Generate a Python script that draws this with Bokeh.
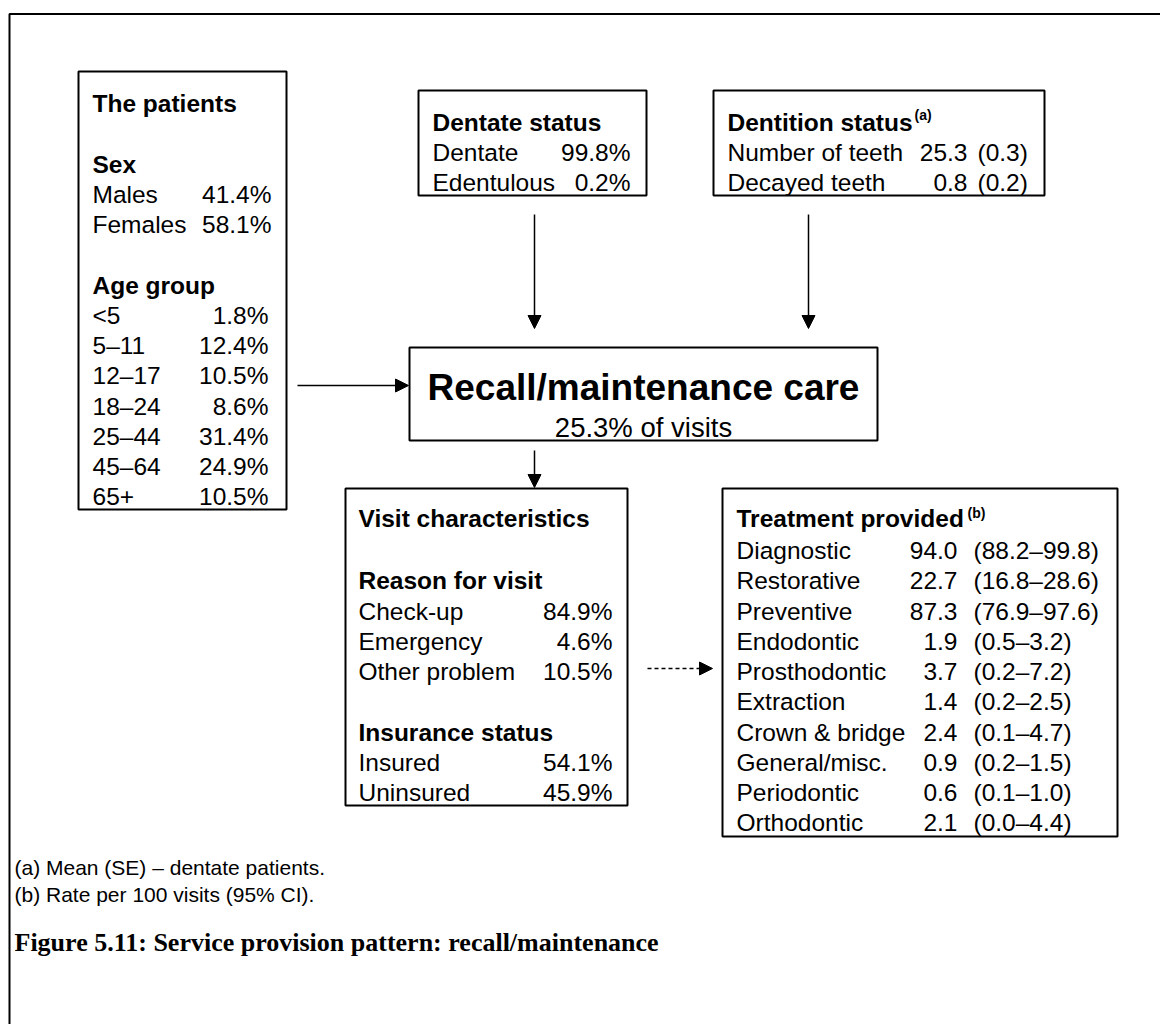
from bokeh.plotting import figure
from bokeh.models import Range1d, Arrow, NormalHead
from bokeh.core.properties import value
from bokeh.embed import file_html
from bokeh.resources import INLINE

# ---------------- data ----------------
sex_labels = ["Males", "Females"]
sex_pct = [41.4, 58.1]
age_labels = ["<5", "5\u201311", "12\u201317", "18\u201324", "25\u201344", "45\u201364", "65+"]
age_pct = [1.8, 12.4, 10.5, 8.6, 31.4, 24.9, 10.5]

dentate_labels = ["Dentate", "Edentulous"]
dentate_pct = [99.8, 0.2]

dentition_labels = ["Number of teeth", "Decayed teeth"]
dentition_mean = [25.3, 0.8]
dentition_se = [0.3, 0.2]

recall_share = 25.3

reason_labels = ["Check-up", "Emergency", "Other problem"]
reason_pct = [84.9, 4.6, 10.5]
insurance_labels = ["Insured", "Uninsured"]
insurance_pct = [54.1, 45.9]

treatment_labels = ["Diagnostic", "Restorative", "Preventive", "Endodontic", "Prosthodontic",
                    "Extraction", "Crown & bridge", "General/misc.", "Periodontic", "Orthodontic"]
treatment_rate = [94.0, 22.7, 87.3, 1.9, 3.7, 1.4, 2.4, 0.9, 0.6, 2.1]
treatment_lo = [88.2, 16.8, 76.9, 0.5, 0.2, 0.2, 0.1, 0.2, 0.1, 0.0]
treatment_hi = [99.8, 28.6, 97.6, 3.2, 7.2, 2.5, 4.7, 1.5, 1.0, 4.4]

footnotes = ["(a) Mean (SE) \u2013 dentate patients.", "(b) Rate per 100 visits (95% CI)."]
caption = "Figure 5.11: Service provision pattern: recall/maintenance"

# ---------------- figure ----------------
p = figure(width=1160, height=1024, x_range=Range1d(0, 1160), y_range=Range1d(1024, 0),
           output_backend="svg", toolbar_location=None, min_border=0)
p.axis.visible = False
p.grid.visible = False
p.outline_line_color = None
p.background_fill_color = "white"
p.border_fill_color = "white"

SANS = "Liberation Sans"
BODY = "24.5px"


def box(l, t, r, b):
    p.quad(left=[l], right=[r], top=[t], bottom=[b], fill_color="white",
           line_color="black", line_width=2)


def txt(xs, ys, texts, align="left", bold=False, size=BODY, font=SANS):
    p.text(x=xs, y=ys, text=texts, text_align=align, text_baseline="alphabetic",
           text_font=value(font), text_font_style="bold" if bold else "normal",
           text_font_size=value(size), text_color="black")


def arrow(x0, y0, x1, y1, dash="solid"):
    p.add_layout(Arrow(end=NormalHead(size=13, fill_color="black", line_color="black", line_width=1),
                       x_start=x0, y_start=y0, x_end=x1, y_end=y1,
                       line_width=1.5, line_color="black", line_dash=dash))


# outer frame (top + left)
p.line(x=[1160, 9, 9], y=[13.5, 13.5, 1024], line_color="black", line_width=2)

# ---- patients box ----
box(78, 71, 286, 509)
txt([92], [103], ["The patients"], bold=True)
txt([92], [164], ["Sex"], bold=True)
sex_y = [194 + 30 * i for i in range(len(sex_labels))]
txt([92] * len(sex_labels), sex_y, sex_labels)
txt([271] * len(sex_pct), sex_y, [f"{v:.1f}%" for v in sex_pct], align="right")
txt([92], [285], ["Age group"], bold=True)
age_y = [315 + 30.2 * i for i in range(len(age_labels))]
txt([92] * len(age_labels), age_y, age_labels)
txt([268] * len(age_pct), age_y, [f"{v:.1f}%" for v in age_pct], align="right")

# ---- dentate box ----
box(418, 90, 646, 195)
txt([432], [122], ["Dentate status"], bold=True)
d_y = [152 + 30 * i for i in range(len(dentate_labels))]
txt([432] * len(dentate_labels), d_y, dentate_labels)
txt([630] * len(dentate_pct), d_y, [f"{v:.1f}%" for v in dentate_pct], align="right")

# ---- dentition box ----
box(713, 90, 1044, 195)
txt([727], [122], ["Dentition status"], bold=True)
txt([914], [114], ["(a)"], bold=True, size="14px")
txt([727] * len(dentition_labels), d_y, dentition_labels)
txt([967] * len(dentition_mean), d_y, [f"{v:.1f}" for v in dentition_mean], align="right")
txt([977] * len(dentition_se), d_y, [f"({v:.1f})" for v in dentition_se])

# ---- central box ----
box(409, 347, 877, 440)
txt([643], [387], ["Recall/maintenance care"], align="center", bold=True, size="37px")
txt([643], [427], [f"{recall_share:.1f}% of visits"], align="center", size="27.5px")

# ---- visit characteristics ----
box(345, 488, 627, 805)
txt([358], [518], ["Visit characteristics"], bold=True)
txt([358], [580], ["Reason for visit"], bold=True)
r_y = [611 + 30 * i for i in range(len(reason_labels))]
txt([358] * len(reason_labels), r_y, reason_labels)
txt([612] * len(reason_pct), r_y, [f"{v:.1f}%" for v in reason_pct], align="right")
txt([358], [732], ["Insurance status"], bold=True)
i_y = [762 + 30 * i for i in range(len(insurance_labels))]
txt([358] * len(insurance_labels), i_y, insurance_labels)
txt([612] * len(insurance_pct), i_y, [f"{v:.1f}%" for v in insurance_pct], align="right")

# ---- treatment box ----
box(722, 488, 1117, 836)
txt([736], [518], ["Treatment provided"], bold=True)
txt([967], [512], ["(b)"], bold=True, size="14px")
t_y = [550 + 30.25 * i for i in range(len(treatment_labels))]
txt([736] * len(treatment_labels), t_y, treatment_labels)
txt([957] * len(treatment_rate), t_y, [f"{v:.1f}" for v in treatment_rate], align="right")
txt([973] * len(treatment_lo), t_y,
    [f"({lo:.1f}\u2013{hi:.1f})" for lo, hi in zip(treatment_lo, treatment_hi)])

# ---- arrows ----
arrow(534, 214, 534, 328)
arrow(808, 214, 808, 328)
arrow(297, 385, 408, 385)
arrow(534, 450, 534, 487)
arrow(647, 668, 712, 668, dash="4 3")

# ---- footnotes & caption ----
fn_y = [867 + 27 * i for i in range(len(footnotes))]
txt([14] * len(footnotes), fn_y, footnotes, size="21px")
txt([14], [942], [caption], bold=True, size="26px", font="Liberation Serif")

open("out.html", "w").write(file_html(p, INLINE))
